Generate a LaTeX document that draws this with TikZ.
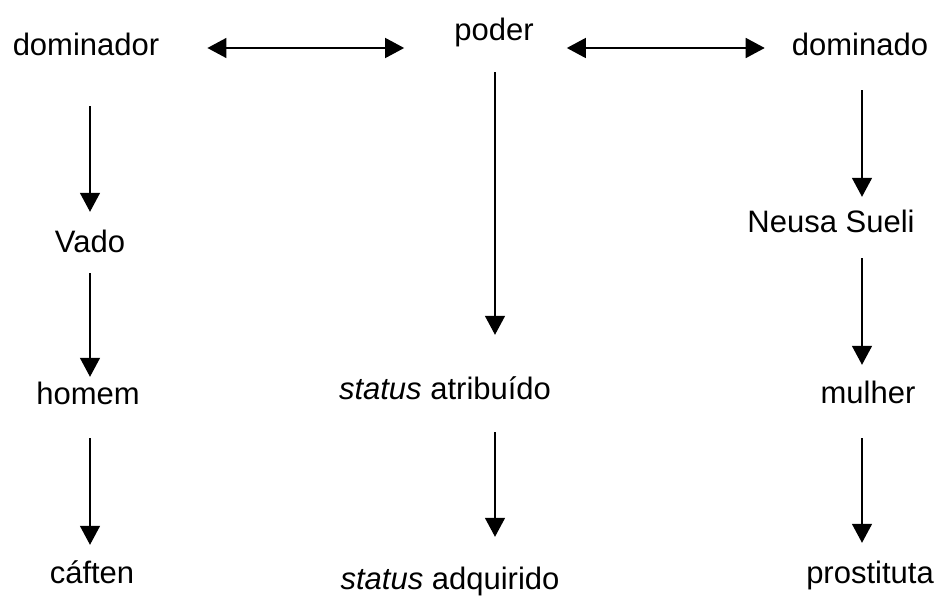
\documentclass[tikz,border=0pt]{standalone}
\usepackage{fontspec}
\setmainfont{Liberation Sans}
\usetikzlibrary{arrows.meta}

\tikzset{
    word/.style={anchor=base, inner sep=0pt, text height=23pt, text depth=7pt,
                 font=\fontsize{31}{36}\selectfont},
    link/.style={-{Triangle[width=20pt,length=19pt]}, line width=1.5pt},
    twoway/.style={{Triangle[width=20pt,length=19pt]}-{Triangle[width=20pt,length=19pt]}, line width=1.5pt}
}

\begin{document}
\begin{tikzpicture}[x=1pt, y=-1pt]
    % page size of the reference, in pixels
    \useasboundingbox (0,0) rectangle (939,596);

    % columns where the vertical arrows run
    \coordinate (colL) at (90,0);
    \coordinate (colM) at (495,0);
    \coordinate (colR) at (862,0);

    % top row
    \node[word] (dominador) at (86,56) {dominador};
    \node[word] (poder) at (494,41) {poder};
    \node[word] (dominado) at (860,56) {dominado};

    % left column
    \node[word] (vado) at (90,252) {Vado};
    \node[word] (homem) at (88,404) {homem};
    \node[word] (caften) at (92,583) {cáften};

    % middle column
    \node[word] (atribuido) at (445,399) {\textit{status} atribuído};
    \node[word] (adquirido) at (450,589) {\textit{status} adquirido};

    % right column
    \node[word] (neusa) at (831,232) {Neusa Sueli};
    \node[word] (mulher) at (868,403) {mulher};
    \node[word] (prostituta) at (870,583) {prostituta};

    % the two arrows of the top row
    \draw[twoway, shorten <=48pt, shorten >=50pt] (dominador.east) -- (dominador.east -| poder.west);
    \draw[twoway, shorten <=33pt, shorten >=27pt] (dominado.west -| poder.east) -- (dominado.west);

    % left chain
    \draw[link, shorten <=43pt, shorten >=17pt] (dominador.south -| colL) -- (vado.north -| colL);
    \draw[link, shorten <=14pt, shorten >=4pt] (vado.south -| colL) -- (homem.north -| colL);
    \draw[link, shorten <=27pt, shorten >=15pt] (homem.south -| colL) -- (caften.north -| colL);

    % middle chain
    \draw[link, shorten <=24pt, shorten >=41pt] (poder.south -| colM) -- (atribuido.north -| colM);
    \draw[link, shorten <=26pt, shorten >=29pt] (atribuido.south -| colM) -- (adquirido.north -| colM);

    % right chain
    \draw[link, shorten <=27pt, shorten >=12pt] (dominado.south -| colR) -- (neusa.north -| colR);
    \draw[link, shorten <=19pt, shorten >=15pt] (neusa.south -| colR) -- (mulher.north -| colR);
    \draw[link, shorten <=28pt, shorten >=17pt] (mulher.south -| colR) -- (prostituta.north -| colR);
\end{tikzpicture}
\end{document}
